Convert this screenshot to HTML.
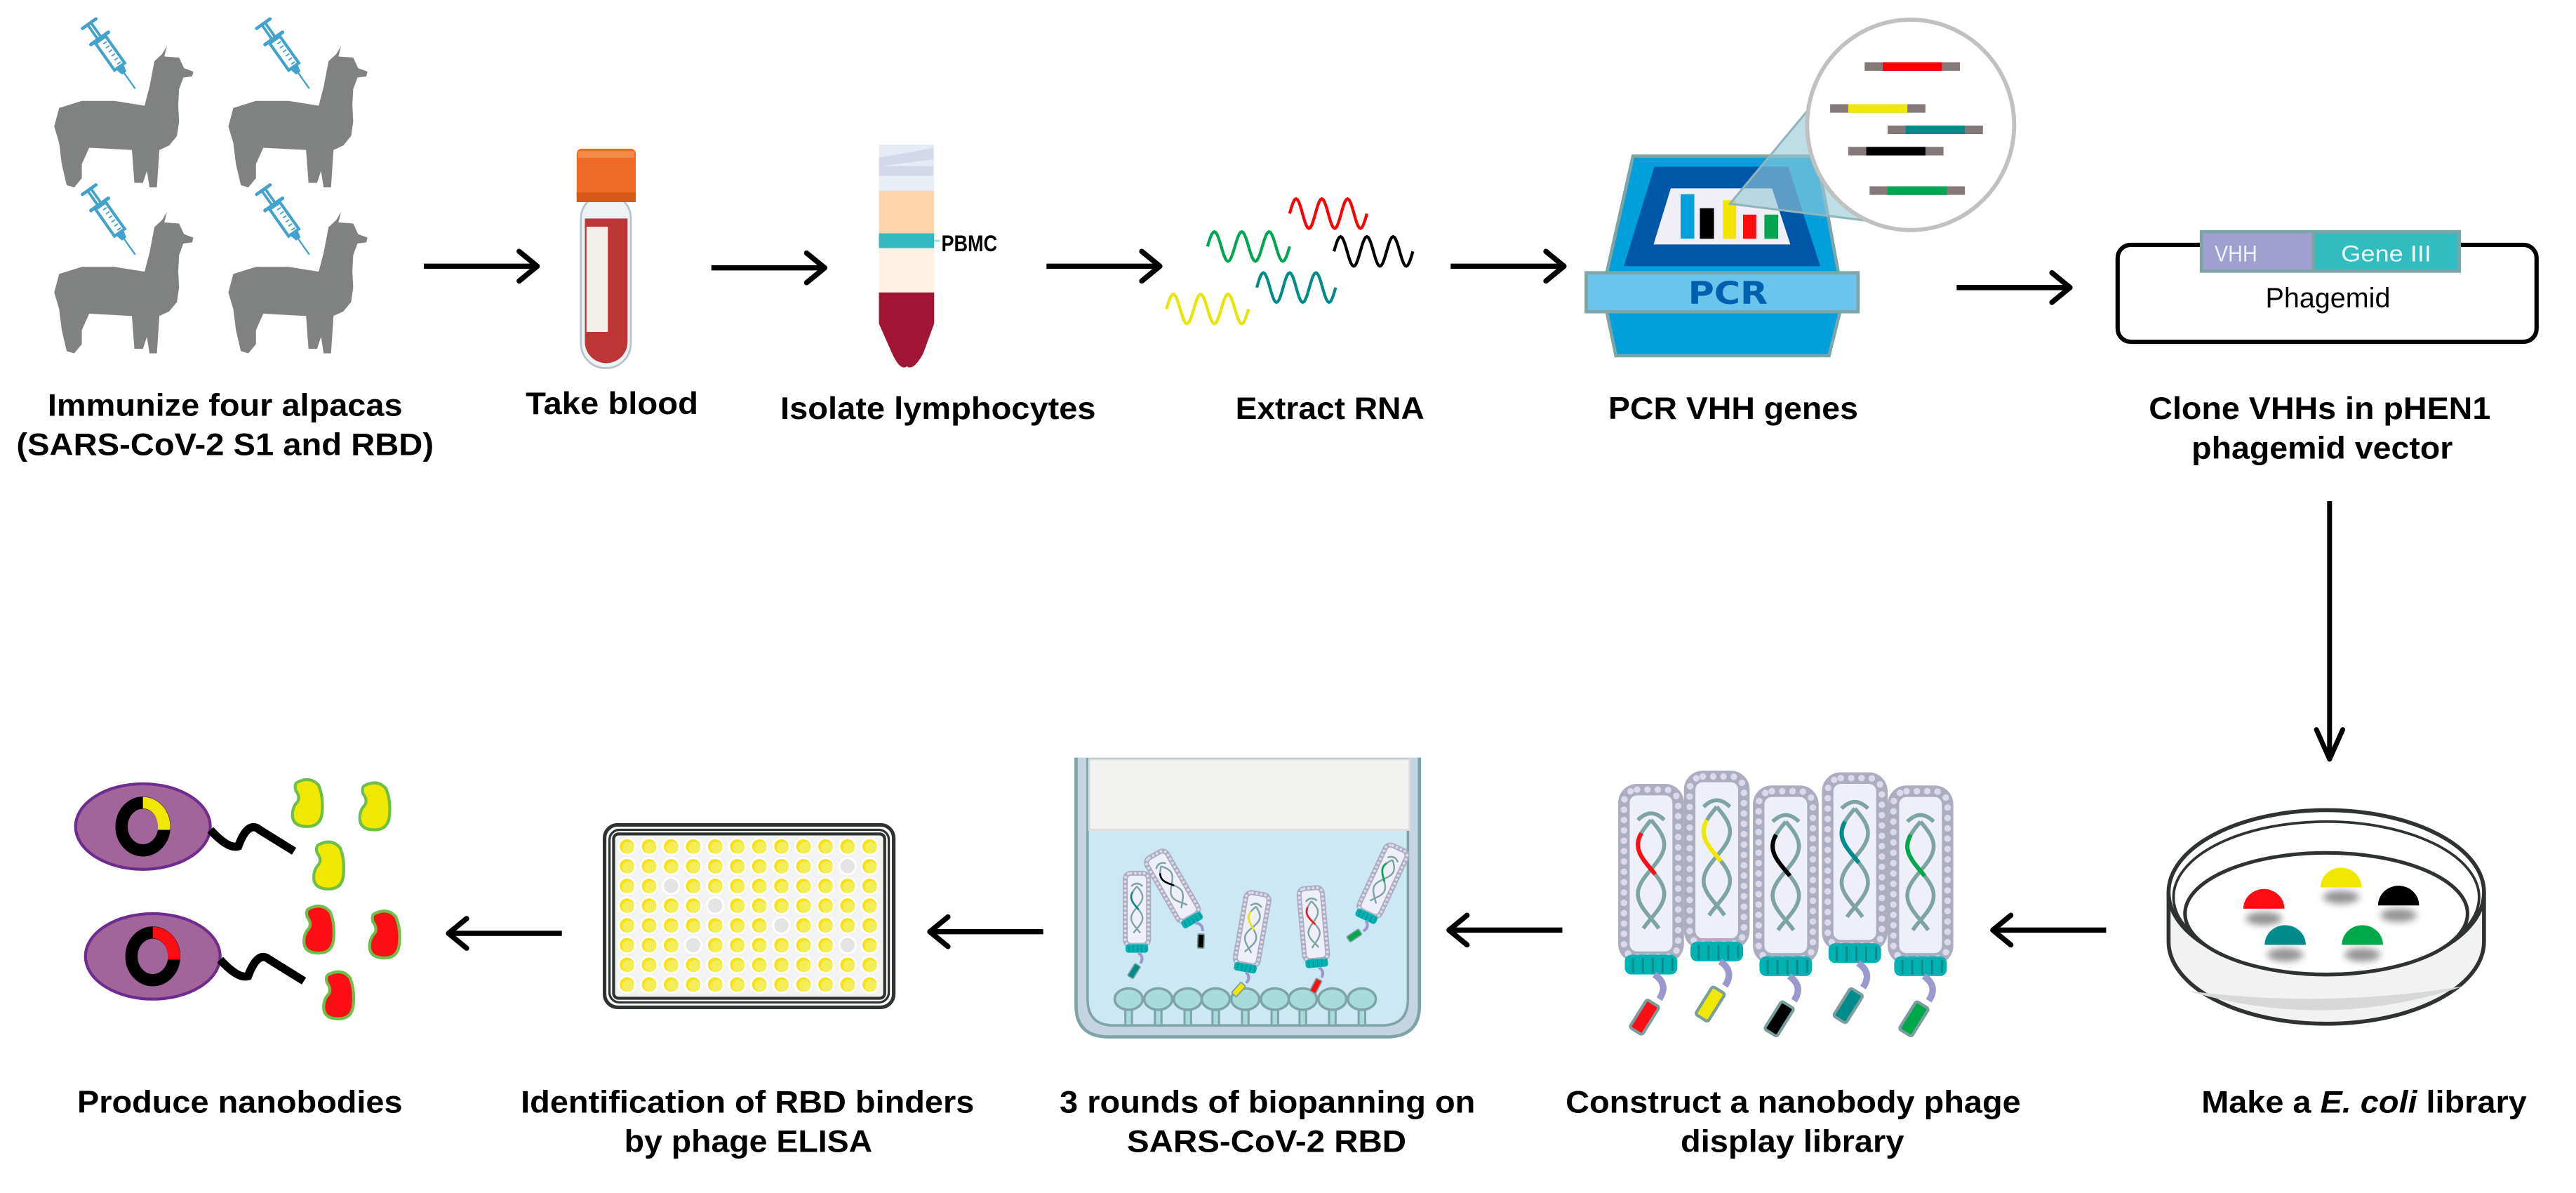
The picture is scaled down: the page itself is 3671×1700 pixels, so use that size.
<!DOCTYPE html>
<html><head><meta charset="utf-8">
<style>
html,body{margin:0;padding:0;background:#fff;}
svg{display:block;}
text{font-family:"Liberation Sans",Arial,sans-serif;font-weight:bold;font-size:19px;fill:#000;}
</style></head>
<body>
<svg id="s" width="3671" height="1700" viewBox="0 0 1568 726" preserveAspectRatio="none" xmlns="http://www.w3.org/2000/svg">
<defs>
<filter id="blur" x="-50%" y="-50%" width="200%" height="200%"><feGaussianBlur stdDeviation="2.2"/></filter>
<path id="alp" d="M68.6,0 L67,6.4 L76,7 L79,13.5 L84.7,15.6 L84,18.5 L78.6,19.2 L76,26.3 L75.5,36 L76,46 L74.7,54.8 L70,60.5 L64,63.3 L62.5,86 L58,86 L56.4,76 L54,83.3 L48.8,83.3 L47.3,63.3 L21.3,61.9 L16.8,71.9 L16.8,80.4 L12.2,86 L7.6,84.7 L4.6,71.9 L3,59 L0,49 L3,37.7 L16.8,33.4 L36.6,33.4 L55,36.3 L58,24.9 L61,9.2 L65.6,5 Z" fill="#808282"/>
<g id="syr" stroke="#42a2cc" fill="none" stroke-width="1.6" stroke-linecap="round">
  <line x1="0" y1="-5" x2="0" y2="5" stroke-width="2"/>
  <line x1="0" y1="-1.2" x2="11" y2="-1.2"/><line x1="0" y1="1.2" x2="11" y2="1.2"/>
  <line x1="11" y1="-6.5" x2="11" y2="6.5" stroke-width="2.2"/>
  <rect x="12" y="-3.8" width="20" height="7.6" fill="#fff" stroke-width="1.8"/>
  <path d="M15,-2 v2 M18,-2 v2 M21,-2 v2 M24,-2 v2 M27,-2 v2 M30,-2 v2" stroke-width="0.8"/>
  <path d="M32,-2 L36,-1 L36,1 L32,2" fill="#42a2cc"/>
  <line x1="36" y1="0" x2="48" y2="0" stroke-width="1"/>
</g>
<g id="arrR" fill="none" stroke="#000" stroke-width="3.2" stroke-linecap="round" stroke-linejoin="round">
  <line x1="0" y1="0" x2="68" y2="0" stroke-linecap="butt"/>
  <polyline points="58,-9 69,0 58,9"/>
</g>
</defs>

<!-- Alpacas -->
<g id="alps"></g>

<!-- arrows top -->
<use href="#arrR" x="258" y="162"/>
<use href="#arrR" x="433" y="163"/>
<use href="#arrR" x="637" y="162"/>
<use href="#arrR" x="883" y="162"/>
<use href="#arrR" x="1191" y="175"/>

<!-- blood tube -->
<rect x="353.6" y="118" width="30.4" height="106" rx="15" fill="#eef2f4" stroke="#b8c4c8" stroke-width="1.2"/>
<path d="M356,133 L382,133 L382,208 A13,13 0 0 1 356,208 Z" fill="#bd3535"/>
<rect x="357" y="138" width="13" height="64" fill="#f3f0ea"/>
<rect x="351" y="90.5" width="36" height="32.5" rx="3" fill="#ee6a25"/>
<rect x="352" y="92" width="34" height="4" fill="#f58a4a"/>
<rect x="351" y="117" width="36" height="6" fill="#d85a18"/>

<!-- PBMC tube -->
<rect x="535" y="88" width="33.6" height="19" fill="#e6ebf4"/>
<path d="M535,96 L568,90 L568,97 L537,101 L568,101 L568,107 L535,107 Z" fill="#d3d8ea"/>
<rect x="535" y="107" width="33.6" height="9" fill="#e8eef6"/>
<rect x="535" y="116" width="33.6" height="26" fill="#fed4ab"/>
<rect x="535" y="142" width="33.6" height="9" fill="#33b8c0"/>
<line x1="568.6" y1="146.5" x2="572" y2="146.5" stroke="#9fd8dc" stroke-width="1.2"/>
<rect x="535" y="151" width="33.6" height="27" fill="#fef0e2"/>
<path d="M535,178 L568.6,178 L568.6,197 L562,215 Q556,226 552,223 Q548,226 543,215 L535,197 Z" fill="#a01533"/>
<text x="573" y="153" style="font-size:14px" textLength="34" lengthAdjust="spacingAndGlyphs">PBMC</text>

<!-- waves -->
<g id="waves" fill="none" stroke-width="1.8"></g>

<!-- PCR machine -->
<path d="M994,95 L1106,95 L1119,166 L978,166 Z" fill="#00a0dc" stroke="#7fa4a8" stroke-width="2"/>
<path d="M1007,101.4 L1088.5,101.4 L1108,162 L988.4,162 Z" fill="#0057a8"/>
<path d="M1017,114.6 L1078.6,114.6 L1089.8,148.8 L1006.5,148.8 Z" fill="#f1eff6"/>
<rect x="1023" y="118.2" width="8.3" height="27" fill="#00a0dc"/>
<rect x="1034.7" y="126.7" width="8.6" height="18.6" fill="#000"/>
<rect x="1048.8" y="121.8" width="8" height="23.5" fill="#f2e600"/>
<rect x="1061" y="130.6" width="8" height="14.7" fill="#ff0d0d"/>
<rect x="1074" y="130.6" width="8.4" height="14.7" fill="#00a650"/>
<path d="M983.6,216.5 L1113.3,216.5 L1120,189.7 L978,189.7 Z" fill="#00a0dc" stroke="#7fa4a8" stroke-width="2"/>
<rect x="965.5" y="166" width="165.5" height="23.7" fill="#6ac4ec" stroke="#7fa4a8" stroke-width="2"/>
<text x="1027.5" y="185" style="font-size:19px;fill:#0060b0;font-family:'DejaVu Sans','Liberation Sans',sans-serif" textLength="48.5" lengthAdjust="spacingAndGlyphs">PCR</text>
<!-- magnifier -->
<path d="M1053,124 L1103,64 L1134,134 Z" fill="rgba(150,200,215,0.62)" stroke="#8fb5bb" stroke-width="1.3"/>
<ellipse cx="1163" cy="76" rx="63" ry="64" fill="#fff" stroke="#c0c0c0" stroke-width="2.5"/>
<g id="genes"></g>

<!-- phagemid -->
<rect x="1289" y="149" width="255" height="59" rx="8" fill="#fff" stroke="#000" stroke-width="2.6"/>
<rect x="1339" y="140" width="159" height="26" fill="#7fa4a8"/>
<rect x="1341" y="142" width="66" height="22" fill="#9f9fd0"/>
<rect x="1409" y="142" width="87" height="22" fill="#33bcc0"/>
<text x="1348" y="159" style="font-size:14px;font-weight:normal;fill:#f2f2ff" textLength="26" lengthAdjust="spacingAndGlyphs">VHH</text>
<text x="1425" y="159" style="font-size:14px;font-weight:normal;fill:#eaffff" textLength="55" lengthAdjust="spacingAndGlyphs">Gene III</text>
<text x="1379" y="187" style="font-size:17px;font-weight:normal" textLength="76" lengthAdjust="spacingAndGlyphs">Phagemid</text>

<!-- vertical arrow -->
<g fill="none" stroke="#000" stroke-width="3" stroke-linecap="round" stroke-linejoin="round">
  <line x1="1418" y1="305" x2="1418" y2="462" stroke-linecap="butt"/>
  <polyline points="1410,444 1418,462 1426,444"/>
</g>

<!-- top labels -->
<text x="29" y="253" textLength="216" lengthAdjust="spacingAndGlyphs">Immunize four alpacas</text>
<text x="10" y="277" textLength="254" lengthAdjust="spacingAndGlyphs">(SARS-CoV-2 S1 and RBD)</text>
<text x="320" y="252" textLength="105" lengthAdjust="spacingAndGlyphs">Take blood</text>
<text x="475" y="255" textLength="192" lengthAdjust="spacingAndGlyphs">Isolate lymphocytes</text>
<text x="752" y="255" textLength="115" lengthAdjust="spacingAndGlyphs">Extract RNA</text>
<text x="979" y="255" textLength="152" lengthAdjust="spacingAndGlyphs">PCR VHH genes</text>
<text x="1308" y="255" textLength="208" lengthAdjust="spacingAndGlyphs">Clone VHHs in pHEN1</text>
<text x="1334" y="279" textLength="159" lengthAdjust="spacingAndGlyphs">phagemid vector</text>

<!-- petri dish -->
<path d="M1320,543 L1320,573 A96,50 0 0 0 1512,573 L1512,543" fill="#f2f2f2" stroke="#2e3330" stroke-width="2.4"/>
<path d="M1332,603 Q1416,628 1500,600 Q1416,614 1332,603 Z" fill="#d8d8d8"/>
<ellipse cx="1416" cy="543" rx="96" ry="50" fill="#fff" stroke="#2e3330" stroke-width="2.4"/>
<ellipse cx="1416" cy="546" rx="93" ry="46" fill="none" stroke="#2e3330" stroke-width="1.6"/>
<ellipse cx="1416" cy="556" rx="86" ry="37" fill="#fff" stroke="#2e3330" stroke-width="2.2"/>
<g id="colonies"></g>

<!-- arrows bottom -->
<use href="#arrR" transform="translate(1282,566) scale(-1,1)"/>
<use href="#arrR" transform="translate(951,566) scale(-1,1)"/>
<use href="#arrR" transform="translate(635,567) scale(-1,1)"/>
<use href="#arrR" transform="translate(342,568) scale(-1,1)"/>

<!-- phages -->
<g id="phages"></g>

<!-- beaker -->
<path d="M655,461 L655,612 Q655,631 675,631 L844,631 Q864,631 864,612 L864,461" fill="#c4d4e2" stroke="#7fa4a8" stroke-width="2"/>
<path d="M662,462 L662,608 Q662,624 678,624 L841,624 Q857,624 857,608 L857,462 Z" fill="#cde8f5" stroke="#7fa4a8" stroke-width="1.5"/>
<rect x="663" y="462" width="195" height="43" fill="#f2f2f0" stroke="#dcdcdc" stroke-width="1.2"/>
<g id="ligands"></g>
<g id="bphages"></g>

<!-- ELISA plate -->
<rect x="368" y="502" width="176" height="111" rx="8" fill="#fff" stroke="#2e3330" stroke-width="2.2"/>
<rect x="371" y="505" width="170" height="105" rx="6" fill="none" stroke="#2e3330" stroke-width="1.4"/>
<rect x="373.5" y="507.5" width="165" height="100" rx="3" fill="#f3f3f3" stroke="#2e3330" stroke-width="1.8"/>
<g id="wells"></g>

<!-- cells -->
<g id="cells"></g>

<!-- bottom labels -->
<text x="47" y="677" textLength="198" lengthAdjust="spacingAndGlyphs">Produce nanobodies</text>
<text x="317" y="677" textLength="276" lengthAdjust="spacingAndGlyphs">Identification of RBD binders</text>
<text x="380" y="701" textLength="151" lengthAdjust="spacingAndGlyphs">by phage ELISA</text>
<text x="645" y="677" textLength="253" lengthAdjust="spacingAndGlyphs">3 rounds of biopanning on</text>
<text x="686" y="701" textLength="170" lengthAdjust="spacingAndGlyphs">SARS-CoV-2 RBD</text>
<text x="953" y="677" textLength="277" lengthAdjust="spacingAndGlyphs">Construct a nanobody phage</text>
<text x="1023" y="701" textLength="136" lengthAdjust="spacingAndGlyphs">display library</text>
<text x="1340" y="677" textLength="198" lengthAdjust="spacingAndGlyphs">Make a <tspan style="font-style:italic">E. coli</tspan> library</text>
</svg>
<script>
(function(){
var NS="http://www.w3.org/2000/svg";
function add(id,html){document.getElementById(id).insertAdjacentHTML('beforeend',html);}
// alpacas
[[33,28],[139,28],[33,129],[139,129]].forEach(function(p){
  add('alps','<use href="#alp" x="'+p[0]+'" y="'+p[1]+'"/>');
  add('alps','<g transform="translate('+(p[0]+21.3)+','+(p[1]-13.6)+') rotate(54.7)"><use href="#syr"/></g>');
});
// waves
function wave(x,y,w,a,c){var d='M'+x+','+y;for(var i=1;i<=60;i++){var t=i/60;d+=' L'+(x+w*t).toFixed(2)+','+(y-a*Math.sin(t*3*2*Math.PI)).toFixed(2);}
 add('waves','<path d="'+d+'" stroke="'+c+'"/>');}
wave(785,130,47,9,'#ff0000');
wave(812,153,48,9,'#000');
wave(735,150,50,9,'#00a651');
wave(765,175,48,9,'#008b8b');
wave(710,188,50,9,'#e6e600');
// genes
[[1135,40.5,'#ff0000'],[1114,66,'#f0e800'],[1149,79,'#008b8b'],[1125,92,'#000'],[1138,116,'#00a650']].forEach(function(g){
  add('genes','<rect x="'+g[0]+'" y="'+(g[1]-2.6)+'" width="58" height="5.2" fill="#857878"/><rect x="'+(g[0]+11)+'" y="'+(g[1]-2.6)+'" width="36" height="5.2" fill="'+g[2]+'"/>');
});
// colonies
[[1378,553,'#ff0d14'],[1425,540,'#f0e800'],[1460,551,'#000'],[1391,575,'#008b8b'],[1438,575,'#00a84a']].forEach(function(c){
  add('colonies','<ellipse cx="'+c[0]+'" cy="'+(c[1]+6)+'" rx="11" ry="4" fill="#777" filter="url(#blur)" opacity="0.8"/>'+
  '<path d="M'+(c[0]-12.5)+','+c[1]+' A12.5,12 0 0 1 '+(c[0]+12.5)+','+c[1]+' Z" fill="'+c[2]+'"/>');
});
// phage builder
function helix(sign,y0,y1){var pts=[];for(var y=y0;y<=y1;y+=1){var t=(y-22)/66*2.2*Math.PI;pts.push((20+sign*8*Math.sin(t)).toFixed(2)+','+y);}return pts.join(' ');}
function phage(color){
 var s='';
 s+='<rect x="3.5" y="3.5" width="33" height="102" rx="8" fill="#efeff9" stroke="#adadc2" stroke-width="7"/>';
 s+='<rect x="3.5" y="3.5" width="33" height="102" rx="8" fill="none" stroke="#dcdaea" stroke-width="4" stroke-dasharray="0 6.3" stroke-linecap="round"/>';
 s+='<polyline points="'+helix(1,22,88)+'" fill="none" stroke="#7da3a3" stroke-width="2.4"/>';
 s+='<polyline points="'+helix(-1,22,88)+'" fill="none" stroke="#7da3a3" stroke-width="2.4"/>';
 s+='<path d="M12,22 Q20,14 28,22" fill="none" stroke="#7da3a3" stroke-width="2.4"/>';
 s+='<polyline points="'+helix(-1,30,55)+'" fill="none" stroke="'+color+'" stroke-width="2.6"/>';
 s+='<rect x="4" y="104" width="32" height="12" rx="4" fill="#00b2b2"/>';
 s+='<path d="M9,106 v9 M15,106 v9 M21,106 v9 M27,106 v9 M33,106 v8" stroke="#008a8a" stroke-width="1.2"/>';
 s+='<path d="M22,116 Q31,122 25,131" fill="none" stroke="#9a98cc" stroke-width="4"/>';
 s+='<g transform="translate(16,142) rotate(32)"><rect x="-4.5" y="-10" width="9" height="20" rx="1.5" fill="'+color+'" stroke="#7a9e9e" stroke-width="1.8"/></g>';
 return s;
}
[[985,477,'#ff0d14'],[1025,469,'#f0e800'],[1067,478,'#000'],[1109,470,'#008b8b'],[1149,478,'#00a84a']].forEach(function(p){
 add('phages','<g transform="translate('+p[0]+','+p[1]+')">'+phage(p[2])+'</g>');
});
// ligands
[687,705,723,740,758,776,793,811,829].forEach(function(x){
 add('ligands','<rect x="'+(x-2)+'" y="612" width="4" height="12" fill="#a8dcdc" stroke="#7fa4a8" stroke-width="1.3"/><ellipse cx="'+x+'" cy="608" rx="8.5" ry="6.5" fill="#a8dcdc" stroke="#7fa4a8" stroke-width="1.5"/>');
});
// beaker phages
[[692,560,0,'#008b8b'],[717,545,-30,'#000'],[761,572,10,'#f0e800'],[800,569,-5,'#ff0d14'],[839,542,25,'#00a84a']].forEach(function(p){
 add('bphages','<g transform="translate('+p[0]+','+p[1]+') rotate('+p[2]+') scale(0.43) translate(-20,-70)">'+phage(p[3])+'</g>');
});
// wells
var gray={'1,10':1,'2,2':1,'3,4':1,'4,7':1,'5,3':1,'5,10':1};
for(var r=0;r<8;r++)for(var c=0;c<12;c++){
 var x=381.6+c*13.43,y=515.1+r*12.0;
 add('wells','<circle cx="'+x.toFixed(2)+'" cy="'+y.toFixed(2)+'" r="5.6" fill="#fff"/>');
 if(gray[r+','+c]) add('wells','<circle cx="'+x.toFixed(2)+'" cy="'+y.toFixed(2)+'" r="4.4" fill="#e4e4e4"/>');
 else add('wells','<circle cx="'+x.toFixed(2)+'" cy="'+y.toFixed(2)+'" r="4.4" fill="#f7e21a"/><circle cx="'+(x+0.8).toFixed(2)+'" cy="'+(y+0.8).toFixed(2)+'" r="3.6" fill="#f3ee58"/>');
}
// cells
function cell(cx,cy,col){
 var s='<ellipse cx="'+cx+'" cy="'+cy+'" rx="41" ry="26" fill="#a2659a" stroke="#6e2c8e" stroke-width="1.8"/>';
 s+='<ellipse cx="'+cx+'" cy="'+cy+'" rx="13" ry="14.5" fill="none" stroke="#000" stroke-width="7.5"/>';
 s+='<path d="M'+cx+','+(cy-18)+' A16.5,18 0 0 1 '+(cx+16.5)+','+(cy+2)+' L'+(cx+9)+','+(cy+2)+' A9,11 0 0 0 '+cx+','+(cy-11)+' Z" fill="'+col+'"/>';
 s+='<path d="M'+(cx+41)+','+(cy+2)+' Q'+(cx+52)+','+(cy+14)+' '+(cx+58)+','+(cy+12)+' Q'+(cx+64)+','+(cy-4)+' '+(cx+71)+','+(cy+2)+' L'+(cx+92)+','+(cy+15)+'" fill="none" stroke="#000" stroke-width="5"/>';
 return s;
}
add('cells',cell(87,503,'#f0e800'));
add('cells',cell(93,582,'#ff0d14'));
function bean(x,y,col){
 return '<path transform="translate('+x+','+y+')" d="M-6,-13 Q2,-17 7,-11 Q10,-4 9,6 Q8,14 0,14 Q-9,14 -9,7 Q-9,2 -6,-1 Q-4,-4 -7,-8 Q-8,-12 -6,-13 Z" fill="'+col+'" stroke="#6cc04a" stroke-width="1.8"/>';
}
[[187,489],[228,491],[200,527]].forEach(function(p){add('cells',bean(p[0],p[1],'#f0e800'));});
[[194,566],[234,569],[206,606]].forEach(function(p){add('cells',bean(p[0],p[1],'#ff0d14'));});
})();
</script>
</body></html>
